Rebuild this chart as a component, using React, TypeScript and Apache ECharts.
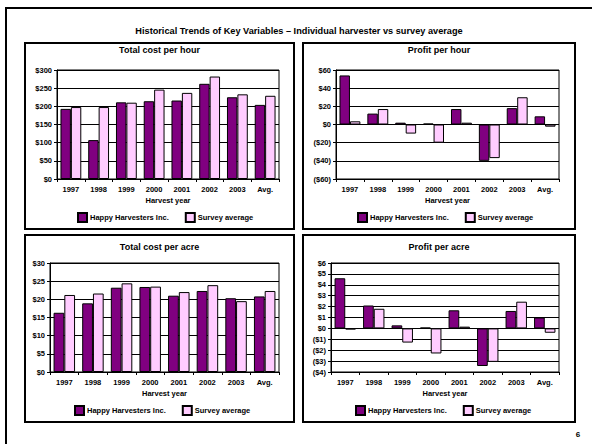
import React, { useEffect, useRef } from 'react';
import * as echarts from 'echarts';

const years = ['1997', '1998', '1999', '2000', '2001', '2002', '2003', 'Avg.'];
const seriesNames = ['Happy Harvesters Inc.', 'Survey average'];
const costHourHarvester = [193, 107, 211, 214, 216, 262, 225, 204];
const costHourSurvey = [198, 198, 210, 246, 237, 282, 233, 229];
const profitHourHarvester = [54, 12, 2, 1, 17, -40, 18, 9];
const profitHourSurvey = [3.5, 17, -10, -20, 2, -37, 30, -2.4];
const costAcreHarvester = [16.3, 18.9, 23.2, 23.4, 21.0, 22.3, 20.3, 20.8];
const costAcreSurvey = [21.2, 21.6, 24.4, 23.5, 22.0, 23.9, 19.5, 22.3];
const profitAcreHarvester = [4.6, 2.1, 0.28, 0.07, 1.66, -3.45, 1.6, 1.0];
const profitAcreSurvey = [-0.1, 1.8, -1.3, -2.3, 0.16, -3.07, 2.45, -0.4];
const panelTitles = ['Total cost per hour', 'Profit per hour', 'Total cost per acre', 'Profit per acre'];
const mainTitle = 'Historical Trends of Key Variables \u2013 Individual harvester vs survey average';
const xAxisName = 'Harvest year';
const pageNumber = '6';
const yRanges = [
  { min: 0, max: 300, interval: 50 },
  { min: -60, max: 60, interval: 20 },
  { min: 0, max: 30, interval: 5 },
  { min: -4, max: 6, interval: 1 },
];

const FONT = '"Liberation Sans", Arial, sans-serif';
const PURPLE = '#800080';
const PINK = '#FFCCFF';

export default function App() {
  const ref = useRef<HTMLDivElement>(null);
  useEffect(() => {
    document.body.style.margin = '0';
    if (!ref.current) return;
    const chart = echarts.init(ref.current, undefined, { renderer: 'svg' });

    const panels = [
      { x: 25, y: 43, w: 269, h: 186 },
      { x: 303, y: 43, w: 272, h: 186 },
      { x: 25, y: 235, w: 269, h: 187 },
      { x: 303, y: 235, w: 272, h: 187 },
    ];
    const grids = [
      { left: 57, top: 70, width: 222, height: 109 },
      { left: 336, top: 70, width: 223, height: 109 },
      { left: 50, top: 263, width: 229, height: 109 },
      { left: 331, top: 263, width: 228, height: 109 },
    ];
    const legendPos = [
      { left: 77, top: 212 },
      { left: 357, top: 212 },
      { left: 74, top: 405 },
      { left: 355, top: 405 },
    ];
    const dataPairs = [
      [costHourHarvester, costHourSurvey],
      [profitHourHarvester, profitHourSurvey],
      [costAcreHarvester, costAcreSurvey],
      [profitAcreHarvester, profitAcreSurvey],
    ];

    const fmt = (v: number) => (v < 0 ? `($${Math.abs(v)})` : `$${v}`);
    const smallText = { fontFamily: FONT, fontWeight: 'bold' as const, fontSize: 7.5, color: '#000' };

    const graphic: any[] = [
      {
        type: 'rect',
        shape: { x: 6, y: 8, width: 620, height: 460 },
        style: { fill: 'none', stroke: '#000', lineWidth: 2 },
        silent: true,
      },
      {
        type: 'text',
        x: 299,
        y: 31,
        style: { text: mainTitle, font: `bold 9.2px ${FONT}`, fill: '#000', align: 'center', verticalAlign: 'middle' },
      },
      {
        type: 'text',
        x: 578,
        y: 434,
        style: { text: pageNumber, font: `bold 8px ${FONT}`, fill: '#000', align: 'center', verticalAlign: 'middle' },
      },
    ];
    panels.forEach((p, i) => {
      graphic.push({
        type: 'rect',
        shape: { x: p.x, y: p.y, width: p.w, height: p.h },
        style: { fill: 'none', stroke: '#000', lineWidth: 2 },
        silent: true,
        z: -1,
      });
      graphic.push({
        type: 'text',
        x: p.x + p.w / 2,
        y: i < 2 ? 50 : 247,
        style: { text: panelTitles[i], font: `bold 9px ${FONT}`, fill: '#000', align: 'center', verticalAlign: 'middle' },
      });
    });

    const series: any[] = [];
    dataPairs.forEach((pair, i) => {
      pair.forEach((d, j) => {
        series.push({
          type: 'bar',
          name: seriesNames[j],
          xAxisIndex: i,
          yAxisIndex: i,
          data: d,
          barGap: '0%',
          barCategoryGap: '25%',
          itemStyle: { color: j === 0 ? PURPLE : PINK, borderColor: '#000', borderWidth: 1 },
        });
      });
    });

    chart.setOption({
      animation: false,
      backgroundColor: '#fff',
      graphic,
      grid: grids.map((g) => ({ ...g, show: true, borderColor: '#000', borderWidth: 1, backgroundColor: '#fff' })),
      legend: legendPos.map((l) => ({
        ...l,
        orient: 'horizontal',
        padding: 0,
        itemWidth: 9,
        itemHeight: 9,
        itemGap: 16,
        icon: 'rect',
        selectedMode: false,
        data: seriesNames,
        textStyle: { ...smallText, padding: [0, 0, 0, -2] },
      })),
      xAxis: grids.map((_, i) => ({
        type: 'category',
        gridIndex: i,
        data: years,
        name: xAxisName,
        nameLocation: 'middle',
        nameGap: 17,
        nameTextStyle: smallText,
        axisLine: { onZero: false, lineStyle: { color: '#000', width: 1 } },
        axisTick: { show: true, length: 3, lineStyle: { color: '#000' } },
        axisLabel: { ...smallText, margin: 6, interval: 0 },
      })),
      yAxis: yRanges.map((r, i) => ({
        type: 'value',
        gridIndex: i,
        ...r,
        axisLine: { show: true, lineStyle: { color: '#000', width: 1 } },
        axisTick: { show: true, length: 3, lineStyle: { color: '#000' } },
        axisLabel: { ...smallText, margin: 5, formatter: fmt },
        splitLine: { show: true, lineStyle: { color: '#000', width: 1 } },
      })),
      series,
    });
    return () => chart.dispose();
  }, []);
  return <div ref={ref} style={{ width: 592, height: 444 }} />;
}
